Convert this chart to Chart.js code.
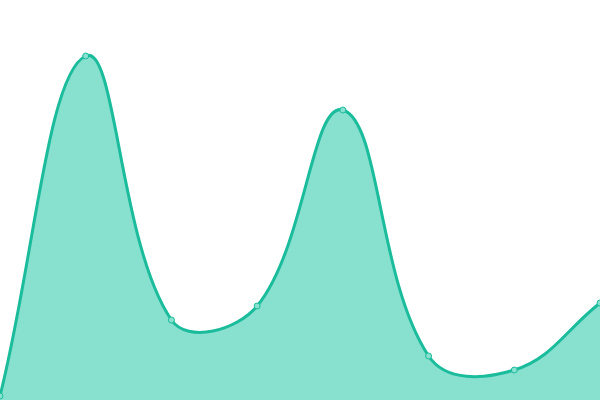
<!DOCTYPE html>
<html>
<head>
<meta charset="utf-8">
<script src="https://cdn.jsdelivr.net/npm/chart.js@4"></script>
<style>
  html, body { margin: 0; padding: 0; background: #fff; }
  #wrap { width: 600px; height: 400px; }
</style>
</head>
<body>
<div id="wrap"><canvas id="chart"></canvas></div>
<script>
// 数据
const labels = ['1', '2', '3', '4', '5', '6', '7', '8'];
const values = [1, 86, 20, 23.5, 72.5, 11, 7.5, 24.25];

new Chart(document.getElementById('chart'), {
  type: 'line',
  data: {
    labels: labels,
    datasets: [{
      data: values,
      borderColor: '#1abc9c',
      backgroundColor: '#88e0cf',
      borderWidth: 3,
      fill: true,
      tension: 0.4,
      pointRadius: 3,
      pointBorderWidth: 1,
      pointBackgroundColor: '#88e0cf',
      pointBorderColor: '#1abc9c'
    }]
  },
  options: {
    responsive: true,
    maintainAspectRatio: false,
    animation: false,
    layout: { padding: 0, autoPadding: false },
    plugins: { legend: { display: false }, tooltip: { enabled: false } },
    scales: {
      x: { display: false, offset: false },
      y: { display: false, min: 0, max: 100 }
    }
  }
});
</script>
</body>
</html>
